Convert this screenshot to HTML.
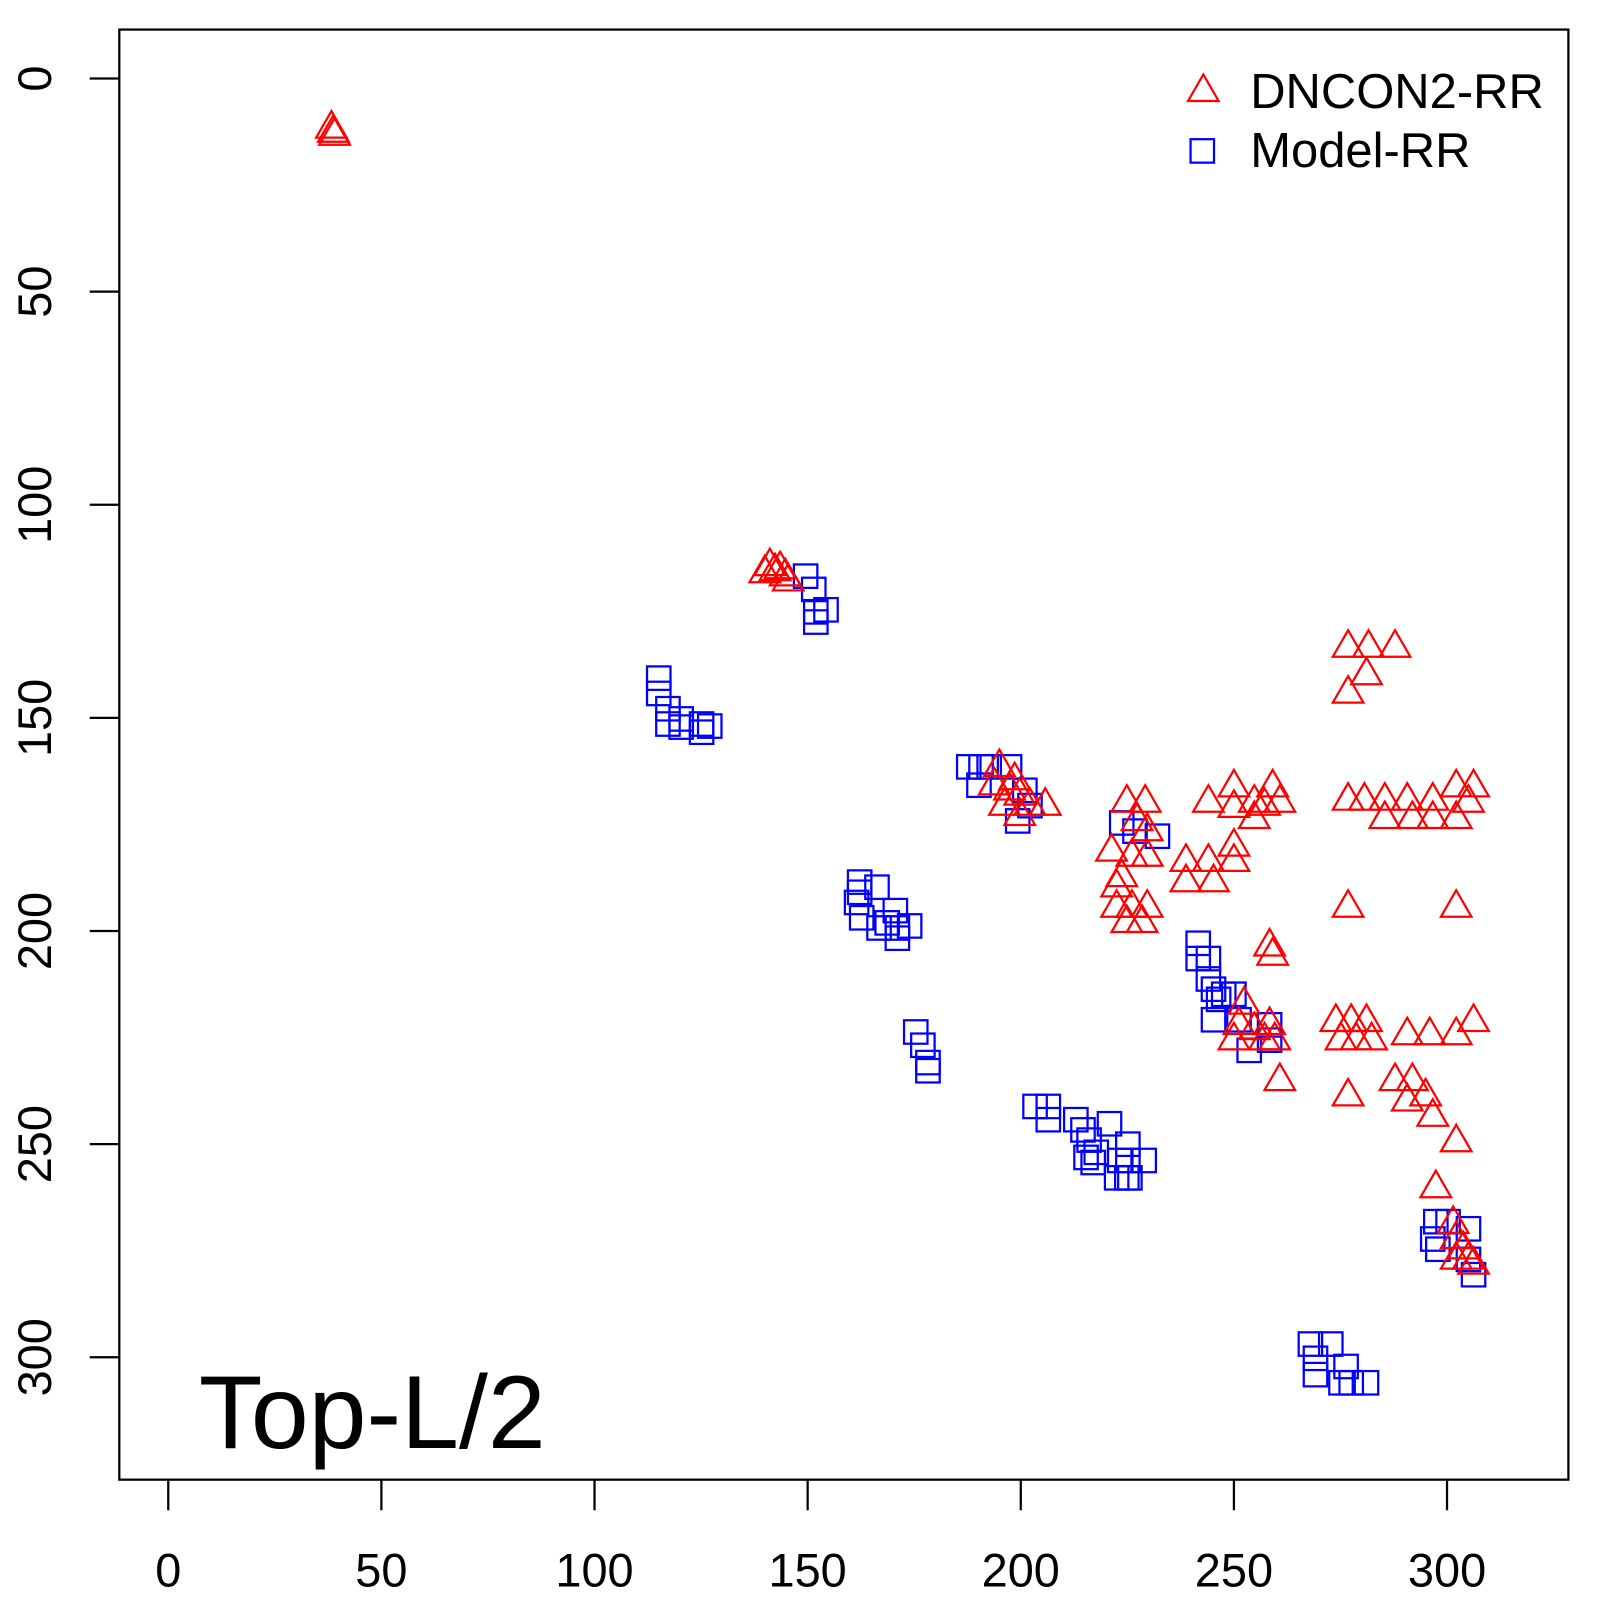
<!DOCTYPE html>
<html><head><meta charset="utf-8"><style>html,body{margin:0;padding:0;background:#fff}svg{display:block}</style></head>
<body>
<svg xmlns="http://www.w3.org/2000/svg" width="1600" height="1600" viewBox="0 0 1569 1569" font-family="Liberation Sans, sans-serif">
<defs>
<path id="t" d="M0,-17 L15,9 L-15,9 Z" fill="none" stroke="#f00" stroke-width="2.2"/>
<rect id="s" x="-11.5" y="-11.5" width="23" height="23" fill="none" stroke="#00f" stroke-width="2.2"/>
</defs>
<rect x="0" y="0" width="1569" height="1569" fill="#fff"/>
<rect x="117" y="29" width="1421" height="1422" fill="none" stroke="#000" stroke-width="2.2"/>
<g stroke="#000" stroke-width="2.2">
<line x1="165" y1="1451" x2="165" y2="1481"/><line x1="374" y1="1451" x2="374" y2="1481"/><line x1="583" y1="1451" x2="583" y2="1481"/><line x1="792" y1="1451" x2="792" y2="1481"/><line x1="1001" y1="1451" x2="1001" y2="1481"/><line x1="1210" y1="1451" x2="1210" y2="1481"/><line x1="1419" y1="1451" x2="1419" y2="1481"/>
<line x1="117" y1="77" x2="88" y2="77"/><line x1="117" y1="286" x2="88" y2="286"/><line x1="117" y1="495" x2="88" y2="495"/><line x1="117" y1="704" x2="88" y2="704"/><line x1="117" y1="913" x2="88" y2="913"/><line x1="117" y1="1122" x2="88" y2="1122"/><line x1="117" y1="1331" x2="88" y2="1331"/>
</g>
<g font-size="46" text-anchor="middle" fill="#000">
<text x="165" y="1556">0</text><text x="374" y="1556">50</text><text x="583" y="1556">100</text><text x="792" y="1556">150</text><text x="1001" y="1556">200</text><text x="1210" y="1556">250</text><text x="1419" y="1556">300</text>
<text transform="translate(50,77) rotate(-90)">0</text>
<text transform="translate(50,286) rotate(-90)">50</text>
<text transform="translate(50,495) rotate(-90)">100</text>
<text transform="translate(50,704) rotate(-90)">150</text>
<text transform="translate(50,913) rotate(-90)">200</text>
<text transform="translate(50,1122) rotate(-90)">250</text>
<text transform="translate(50,1331) rotate(-90)">300</text>
</g>
<text x="195" y="1420" font-size="102">Top-L/2</text>
<use href="#t" x="1180" y="90"/><text x="1226" y="106" font-size="48">DNCON2-RR</text>
<use href="#s" x="1179" y="148"/><text x="1226" y="164" font-size="48">Model-RR</text>
<g>
<use href="#s" x="646" y="665"/><use href="#s" x="646" y="680"/><use href="#s" x="655" y="695"/><use href="#s" x="655" y="710"/><use href="#s" x="668" y="705"/><use href="#s" x="668" y="713"/><use href="#s" x="688" y="710"/><use href="#s" x="688" y="718"/><use href="#s" x="696" y="712"/>
<use href="#s" x="790" y="565"/><use href="#s" x="798" y="578"/><use href="#s" x="800" y="600"/><use href="#s" x="810" y="598"/><use href="#s" x="800" y="610"/>
<use href="#s" x="950" y="752"/><use href="#s" x="962" y="752"/><use href="#s" x="970" y="752"/><use href="#s" x="990" y="752"/><use href="#s" x="960" y="770"/><use href="#s" x="1005" y="775"/><use href="#s" x="1010" y="790"/><use href="#s" x="998" y="805"/>
<use href="#s" x="843" y="865"/><use href="#s" x="843" y="875"/><use href="#s" x="840" y="885"/><use href="#s" x="845" y="900"/><use href="#s" x="860" y="870"/><use href="#s" x="862" y="910"/><use href="#s" x="878" y="893"/><use href="#s" x="880" y="910"/><use href="#s" x="880" y="920"/><use href="#s" x="892" y="908"/><use href="#s" x="870" y="905"/>
<use href="#s" x="898" y="1012"/><use href="#s" x="905" y="1025"/><use href="#s" x="910" y="1042"/><use href="#s" x="910" y="1050"/>
<use href="#s" x="1015" y="1085"/><use href="#s" x="1028" y="1085"/><use href="#s" x="1028" y="1098"/><use href="#s" x="1055" y="1098"/><use href="#s" x="1062" y="1108"/><use href="#s" x="1068" y="1118"/><use href="#s" x="1075" y="1130"/><use href="#s" x="1088" y="1102"/><use href="#s" x="1065" y="1135"/><use href="#s" x="1072" y="1140"/><use href="#s" x="1095" y="1155"/><use href="#s" x="1106" y="1122"/><use href="#s" x="1106" y="1138"/><use href="#s" x="1105" y="1155"/><use href="#s" x="1122" y="1138"/><use href="#s" x="1108" y="1155"/><use href="#s" x="1098" y="1138"/>
<use href="#s" x="1100" y="807"/><use href="#s" x="1113" y="815"/><use href="#s" x="1135" y="820"/>
<use href="#s" x="1175" y="925"/><use href="#s" x="1175" y="940"/><use href="#s" x="1185" y="940"/><use href="#s" x="1185" y="960"/><use href="#s" x="1190" y="970"/><use href="#s" x="1195" y="980"/><use href="#s" x="1190" y="1000"/><use href="#s" x="1200" y="975"/><use href="#s" x="1210" y="975"/><use href="#s" x="1215" y="1000"/><use href="#s" x="1225" y="1030"/><use href="#s" x="1245" y="1005"/><use href="#s" x="1245" y="1020"/>
<use href="#s" x="1408" y="1198"/><use href="#s" x="1420" y="1198"/><use href="#s" x="1440" y="1205"/><use href="#s" x="1405" y="1215"/><use href="#s" x="1410" y="1225"/><use href="#s" x="1440" y="1235"/><use href="#s" x="1445" y="1250"/>
<use href="#s" x="1285" y="1318"/><use href="#s" x="1290" y="1332"/><use href="#s" x="1290" y="1348"/><use href="#s" x="1305" y="1318"/><use href="#s" x="1320" y="1340"/><use href="#s" x="1325" y="1356"/><use href="#s" x="1340" y="1356"/><use href="#s" x="1315" y="1356"/>
</g>
<g>
<use href="#t" x="327" y="130"/><use href="#t" x="325" y="126"/><use href="#t" x="328" y="133"/>
<use href="#t" x="755" y="555"/><use href="#t" x="760" y="560"/><use href="#t" x="765" y="558"/><use href="#t" x="770" y="565"/><use href="#t" x="750" y="562"/><use href="#t" x="773" y="570"/>
<use href="#t" x="1322" y="635"/><use href="#t" x="1342" y="635"/><use href="#t" x="1368" y="635"/><use href="#t" x="1340" y="662"/><use href="#t" x="1322" y="680"/>
<use href="#t" x="980" y="752"/><use href="#t" x="975" y="770"/><use href="#t" x="990" y="775"/><use href="#t" x="1000" y="780"/><use href="#t" x="985" y="790"/><use href="#t" x="1000" y="800"/><use href="#t" x="1010" y="790"/><use href="#t" x="1025" y="790"/><use href="#t" x="995" y="765"/>
<use href="#t" x="1105" y="787"/><use href="#t" x="1123" y="787"/><use href="#t" x="1115" y="805"/><use href="#t" x="1125" y="815"/><use href="#t" x="1090" y="835"/><use href="#t" x="1110" y="840"/><use href="#t" x="1125" y="840"/><use href="#t" x="1100" y="860"/><use href="#t" x="1095" y="890"/><use href="#t" x="1110" y="890"/><use href="#t" x="1125" y="890"/><use href="#t" x="1105" y="905"/><use href="#t" x="1120" y="905"/><use href="#t" x="1095" y="870"/>
<use href="#t" x="1163" y="845"/><use href="#t" x="1163" y="865"/><use href="#t" x="1185" y="845"/><use href="#t" x="1190" y="865"/><use href="#t" x="1210" y="830"/><use href="#t" x="1210" y="845"/><use href="#t" x="1185" y="787"/><use href="#t" x="1210" y="772"/><use href="#t" x="1210" y="792"/><use href="#t" x="1230" y="787"/><use href="#t" x="1230" y="803"/><use href="#t" x="1248" y="772"/><use href="#t" x="1255" y="787"/><use href="#t" x="1240" y="790"/>
<use href="#t" x="1322" y="785"/><use href="#t" x="1338" y="785"/><use href="#t" x="1358" y="785"/><use href="#t" x="1358" y="803"/><use href="#t" x="1380" y="785"/><use href="#t" x="1385" y="803"/><use href="#t" x="1405" y="785"/><use href="#t" x="1405" y="803"/><use href="#t" x="1428" y="772"/><use href="#t" x="1445" y="772"/><use href="#t" x="1440" y="787"/><use href="#t" x="1428" y="803"/><use href="#t" x="1322" y="890"/><use href="#t" x="1428" y="890"/>
<use href="#t" x="1245" y="928"/><use href="#t" x="1248" y="937"/><use href="#t" x="1220" y="985"/><use href="#t" x="1215" y="1005"/><use href="#t" x="1230" y="1010"/><use href="#t" x="1245" y="1005"/><use href="#t" x="1250" y="1020"/><use href="#t" x="1210" y="1020"/><use href="#t" x="1255" y="1060"/><use href="#t" x="1240" y="1020"/>
<use href="#t" x="1310" y="1002"/><use href="#t" x="1325" y="1002"/><use href="#t" x="1340" y="1002"/><use href="#t" x="1315" y="1020"/><use href="#t" x="1330" y="1020"/><use href="#t" x="1345" y="1020"/><use href="#t" x="1322" y="1075"/>
<use href="#t" x="1380" y="1015"/><use href="#t" x="1402" y="1015"/><use href="#t" x="1428" y="1015"/><use href="#t" x="1445" y="1002"/>
<use href="#t" x="1368" y="1060"/><use href="#t" x="1385" y="1060"/><use href="#t" x="1398" y="1075"/><use href="#t" x="1380" y="1080"/><use href="#t" x="1405" y="1095"/><use href="#t" x="1428" y="1120"/><use href="#t" x="1408" y="1165"/>
<use href="#t" x="1425" y="1200"/><use href="#t" x="1428" y="1215"/><use href="#t" x="1435" y="1225"/><use href="#t" x="1440" y="1235"/><use href="#t" x="1428" y="1235"/><use href="#t" x="1445" y="1240"/>
</g>
</svg>
</body></html>
